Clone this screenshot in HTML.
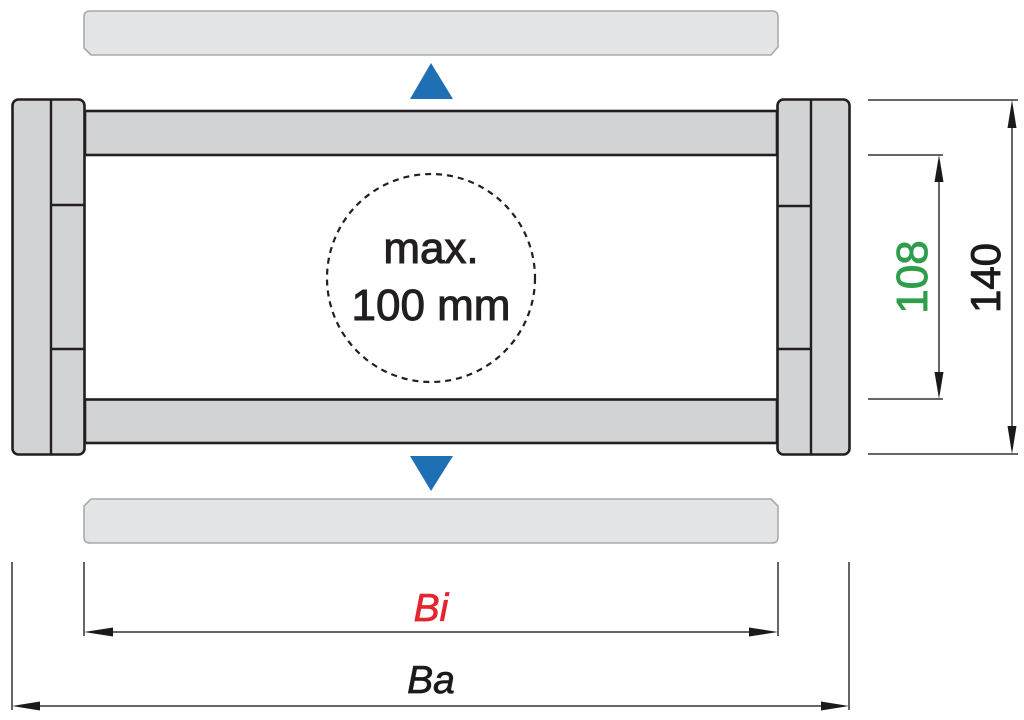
<!DOCTYPE html>
<html><head><meta charset="utf-8"><style>
html,body{margin:0;padding:0;background:#fff;}
svg{display:block;}
</style></head><body>
<svg width="1024" height="720" viewBox="0 0 1024 720" xmlns="http://www.w3.org/2000/svg">
<!-- light bars -->
<path d="M90,11 H772 Q778,11 778,17 V47 L771,55 H91 L84,48 V17 Q84,11 90,11 Z" fill="#e4e5e7" stroke="#a9aaac" stroke-width="1.6"/>
<path d="M91,499 H771 L778,506 V537 Q778,543 772,543 H90 Q84,543 84,537 V506 Z" fill="#e4e5e7" stroke="#a9aaac" stroke-width="1.6"/>
<!-- dark bars -->
<rect x="85" y="111" width="692" height="44" fill="#d2d3d5" stroke="#231f20" stroke-width="2.6"/>
<rect x="85" y="399.5" width="692" height="43.5" fill="#d2d3d5" stroke="#231f20" stroke-width="2.6"/>
<!-- left block -->
<rect x="12.5" y="99.5" width="72" height="355" rx="6" fill="#d2d3d5" stroke="#231f20" stroke-width="2.6"/>
<line x1="51" y1="99.5" x2="51" y2="454.5" stroke="#231f20" stroke-width="2.4"/>
<line x1="51" y1="205" x2="84.5" y2="205" stroke="#231f20" stroke-width="2.4"/>
<line x1="51" y1="349" x2="84.5" y2="349" stroke="#231f20" stroke-width="2.4"/>
<!-- right block -->
<rect x="777.5" y="99.5" width="72" height="355" rx="6" fill="#d2d3d5" stroke="#231f20" stroke-width="2.6"/>
<line x1="811" y1="99.5" x2="811" y2="454.5" stroke="#231f20" stroke-width="2.4"/>
<line x1="777.5" y1="206" x2="811" y2="206" stroke="#231f20" stroke-width="2.4"/>
<line x1="777.5" y1="349" x2="811" y2="349" stroke="#231f20" stroke-width="2.4"/>
<!-- blue triangles -->
<polygon points="431,63 453,99 410,99" fill="#1f6fb5"/>
<polygon points="410,456 453,456 431,491" fill="#1f6fb5"/>
<!-- dashed circle -->
<circle cx="431" cy="278" r="104" fill="none" stroke="#231f20" stroke-width="2.2" stroke-dasharray="6,5"/>
<text x="431" y="263" text-anchor="middle" font-family="Liberation Sans, Arial, sans-serif" font-size="44" fill="#231f20" stroke="#231f20" stroke-width="1">max.</text>
<text x="431" y="320" text-anchor="middle" font-family="Liberation Sans, Arial, sans-serif" font-size="44" fill="#231f20" stroke="#231f20" stroke-width="1">100 mm</text>
<!-- right dimensions -->
<g stroke="#333" stroke-width="1.5">
<line x1="868" y1="100" x2="1018" y2="100"/>
<line x1="868" y1="454" x2="1018" y2="454"/>
<line x1="868" y1="155" x2="943" y2="155"/>
<line x1="868" y1="399" x2="943" y2="399"/>
<line x1="1012" y1="110" x2="1012" y2="444"/>
<line x1="939" y1="165" x2="939" y2="389"/>
</g>
<g fill="#1a1a1a">
<polygon points="1012,100 1016.5,128 1007.5,128"/>
<polygon points="1012,454 1016.5,426 1007.5,426"/>
<polygon points="939,155 943.5,182 934.5,182"/>
<polygon points="939,399 943.5,372 934.5,372"/>
</g>
<text transform="translate(927,277) rotate(-90)" text-anchor="middle" font-family="Liberation Sans, Arial, sans-serif" font-size="44" fill="#2e9e4a" stroke="#2e9e4a" stroke-width="0.9">108</text>
<text transform="translate(1000,278) rotate(-90)" text-anchor="middle" font-family="Liberation Sans, Arial, sans-serif" font-size="42" fill="#1a1a1a" stroke="#1a1a1a" stroke-width="0.9">140</text>
<!-- bottom dimensions -->
<g stroke="#333" stroke-width="1.5">
<line x1="84" y1="562" x2="84" y2="636"/>
<line x1="778" y1="562" x2="778" y2="636"/>
<line x1="12" y1="562" x2="12" y2="710"/>
<line x1="849" y1="562" x2="849" y2="710"/>
<line x1="94" y1="632" x2="768" y2="632"/>
<line x1="22" y1="706" x2="839" y2="706"/>
</g>
<g fill="#1a1a1a">
<polygon points="84,632 113,627.5 113,636.5"/>
<polygon points="778,632 749,627.5 749,636.5"/>
<polygon points="12,706 40,701.5 40,710.5"/>
<polygon points="849,706 821,701.5 821,710.5"/>
</g>
<text x="431" y="621" text-anchor="middle" font-family="Liberation Sans, Arial, sans-serif" font-style="italic" font-size="39" fill="#e4252d" stroke="#e4252d" stroke-width="0.7">Bi</text>
<text x="431" y="693" text-anchor="middle" font-family="Liberation Sans, Arial, sans-serif" font-style="italic" font-size="39" fill="#1a1a1a" stroke="#1a1a1a" stroke-width="0.7">Ba</text>
</svg>
</body></html>
